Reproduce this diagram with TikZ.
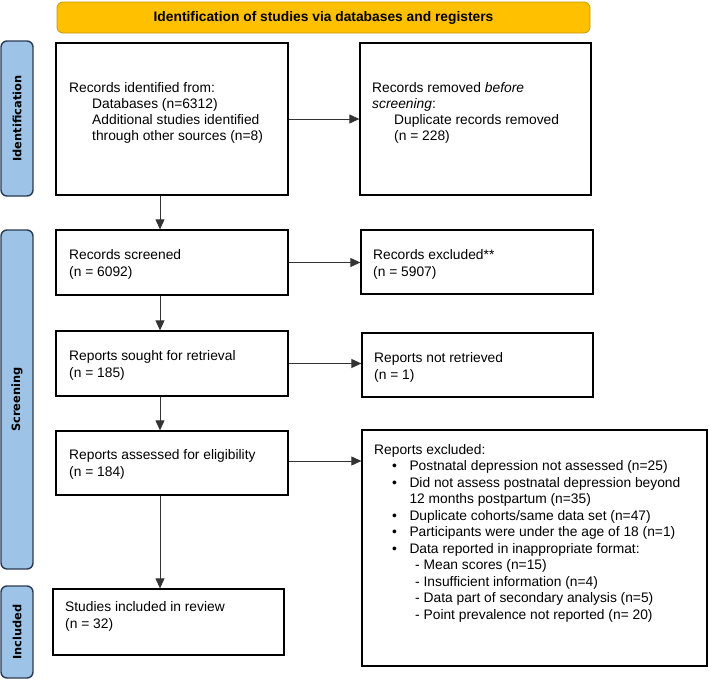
\documentclass[tikz,border=0pt]{standalone}
\usepackage{fontspec}
\setmainfont{Liberation Sans}
\newfontfamily\sidefont{DejaVu Sans}
\usetikzlibrary{arrows.meta,calc}
\definecolor{hdrfill}{HTML}{FFC000}
\definecolor{hdrdraw}{HTML}{C59A00}
\definecolor{sbfill}{HTML}{9DC3E6}
\definecolor{sbdraw}{HTML}{2A3B55}
\definecolor{linec}{HTML}{333333}
\begin{document}
\begin{tikzpicture}[x=1pt,y=-1pt,
  font=\fontsize{13.8}{16}\selectfont,
  box/.style={draw=black, line width=1.3pt, rectangle, inner sep=0pt, anchor=center},
  hdr/.style={draw=hdrdraw, fill=hdrfill, rounded corners=6pt, line width=0.8pt, inner sep=0pt,
              font=\bfseries\fontsize{13.8}{16}\selectfont},
  side/.style={draw=sbdraw, fill=sbfill, rounded corners=6pt, line width=1.4pt, inner sep=0pt},
  sidelbl/.style={rotate=90, inner sep=0pt, font=\sidefont\bfseries\fontsize{11.4}{13}\selectfont},
  txt/.style={anchor=base west, inner sep=0pt},
  two/.style={txt, font=\fontsize{13.8}{17}\selectfont},
  arr/.style={draw=linec, line width=0.9pt, -{Triangle[length=10pt,width=9pt]}}]
\fill[white] (0,0) rectangle (709,680);
\useasboundingbox (0,0) rectangle (709,680);

% header
\node[hdr, minimum width=533pt, minimum height=31pt] (h) at (323.5,17.5)
  {Identification of studies via databases and registers};

% side bars
\node[side, minimum width=32pt, minimum height=155pt] (s1) at (17,118.5) {};
\node[side, minimum width=32pt, minimum height=339pt] (s2) at (17,399.5) {};
\node[side, minimum width=32pt, minimum height=92pt] (s3) at (17,632) {};
\node[sidelbl] (l1) at (s1.center) {Identification};
\node[sidelbl] (l2) at (s2.center) {Screening};
\node[sidelbl] (l3) at (s3.center) {Included};

% boxes
\node[box, minimum width=232pt, minimum height=152pt] (b1) at (172,119) {};
\node[box, minimum width=231pt, minimum height=152pt] (b2) at (475.5,119) {};
\node[box, minimum width=232pt, minimum height=65pt] (b3) at (172,262.5) {};
\node[box, minimum width=232pt, minimum height=64pt] (b4) at (477,262) {};
\node[box, minimum width=232pt, minimum height=65pt] (b5) at (172,363.5) {};
\node[box, minimum width=231pt, minimum height=64pt] (b6) at (477.5,365) {};
\node[box, minimum width=232pt, minimum height=64pt] (b7) at (172,463) {};
\node[box, minimum width=345pt, minimum height=236pt] (b8) at (534.5,548) {};
\node[box, minimum width=231pt, minimum height=66pt] (b9) at (168.5,622) {};

% texts
\node[txt] (t1) at (69,92) {\vtop{\hbox{Records identified from:}
  \hbox{\kern23pt Databases (n=6312)}
  \hbox{\kern23pt Additional studies identified}
  \hbox{\kern23pt through other sources (n=8)}}};
\node[txt] (t2) at (372,92) {\vtop{\hbox{Records removed \textit{before}}
  \hbox{\textit{screening}:}
  \hbox{\kern22pt Duplicate records removed}
  \hbox{\kern22pt (n = 228)}}};
\node[two] (t3) at (69,259) {\vtop{\hbox{Records screened}\hbox{(n = 6092)}}};
\node[two] (t4) at (373,259) {\vtop{\hbox{Records excluded**}\hbox{(n = 5907)}}};
\node[two] (t5) at (69,360) {\vtop{\hbox{Reports sought for retrieval}\hbox{(n = 185)}}};
\node[two] (t6) at (374,362) {\vtop{\hbox{Reports not retrieved}\hbox{(n = 1)}}};
\node[two] (t7) at (69,459) {\vtop{\hbox{Reports assessed for eligibility}\hbox{(n = 184)}}};
\node[two] (t9) at (65,611) {\vtop{\hbox{Studies included in review}\hbox{(n = 32)}}};
\node[txt, font=\fontsize{13.8}{16.5}\selectfont] (t8) at (374,454) {\vtop{%
  \hbox{Reports excluded:}
  \hbox{\kern18pt\textbullet\kern12.5pt Postnatal depression not assessed (n=25)}
  \hbox{\kern18pt\textbullet\kern12.5pt Did not assess postnatal depression beyond}
  \hbox{\kern35.3pt 12 months postpartum (n=35)}
  \hbox{\kern18pt\textbullet\kern12.5pt Duplicate cohorts/same data set (n=47)}
  \hbox{\kern18pt\textbullet\kern12.5pt Participants were under the age of 18 (n=1)}
  \hbox{\kern18pt\textbullet\kern12.5pt Data reported in inappropriate format:}
  \hbox{\kern41pt - Mean scores (n=15)}
  \hbox{\kern41pt - Insufficient information (n=4)}
  \hbox{\kern41pt - Data part of secondary analysis (n=5)}
  \hbox{\kern41pt - Point prevalence not reported (n= 20)}}};

% connectors
\draw[arr] (b1.east) -- (b2.west);
\draw[arr] (b3.east) -- (b3.east -| b4.west);
\draw[arr] (b5.east) -- (b5.east -| b6.west);
\draw[arr] ([yshift=2pt]b7.east) -- ([yshift=2pt]b7.east -| b8.west);
\draw[arr] ([xshift=-12pt]b1.south) -- ([xshift=-12pt]b1.south |- b3.north);
\draw[arr] ([xshift=-12pt]b3.south) -- ([xshift=-12pt]b3.south |- b5.north);
\draw[arr] ([xshift=-12pt]b5.south) -- ([xshift=-12pt]b5.south |- b7.north);
\draw[arr] ([xshift=-12pt]b7.south) -- ([xshift=-12pt]b7.south |- b9.north);
\end{tikzpicture}
\end{document}
